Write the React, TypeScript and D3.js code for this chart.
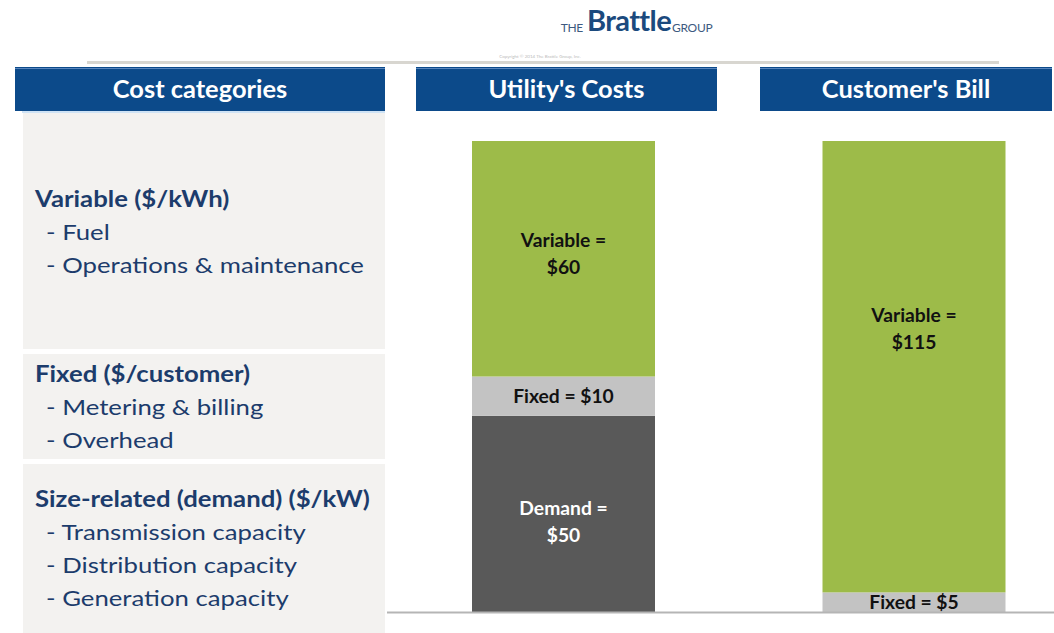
import React from "react";
import * as d3 from "d3";

const columns = ["Utility's Costs", "Customer's Bill"];
const segmentNames = ["Demand", "Fixed", "Variable"];
const utilityValues = [50, 10, 60];
const billValues = [0, 5, 115];
const categoryHeads = ["Variable ($/kWh)", "Fixed ($/customer)", "Size-related (demand) ($/kW)"];
const categoryItems = [
  ["Fuel", "Operations & maintenance"],
  ["Metering & billing", "Overhead"],
  ["Transmission capacity", "Distribution capacity", "Generation capacity"],
];
const headerTitles = ["Cost categories", "Utility's Costs", "Customer's Bill"];

const W = 1054;
const H = 633;
const FONT = "Lato, 'Open Sans', sans-serif";
const BLUE = "#0c4a8a";
const TEXTBLUE = "#1c3c6c";
const segColors: Record<string, string> = { Demand: "#595959", Fixed: "#c3c3c3", Variable: "#9dbb49" };
const segText: Record<string, string> = { Demand: "#ffffff", Fixed: "#111", Variable: "#111" };

function SText(props: { x: number; y: number; sx: number; anchor?: string; size: number; weight?: number; fill: string; children: React.ReactNode }) {
  const { x, y, sx, anchor, size, weight, fill, children } = props;
  return (
    <text
      transform={`translate(${x},${y}) scale(${sx},1)`}
      x={0}
      y={0}
      textAnchor={anchor || "start"}
      fontSize={size}
      fontWeight={weight || 400}
      fill={fill}
    >
      {children}
    </text>
  );
}

export default function App() {
  const y = d3.scaleLinear().domain([0, 120]).range([612, 141]);
  const x = d3.scalePoint<string>().domain(columns).range([563.5, 914]);
  const barW = 183;
  const series = [utilityValues, billValues];
  const labelShift = [[8, 0, -5], [0, 0, -38]];

  const headerBoxes = [
    { x0: 15, x1: 385 },
    { x0: 416, x1: 717 },
    { x0: 760, x1: 1052 },
  ];
  const panels = [
    { y0: 113, y1: 349 },
    { y0: 354, y1: 459 },
    { y0: 464, y1: 633 },
  ];
  const headBaselines = [207, 382, 507];
  const lineGap = 33;
  const leftSx = 1.17;
  const labelSx = 1.07;

  return (
    <svg width={W} height={H} style={{ position: "absolute", left: 0, top: 0, background: "#fff" }} fontFamily={FONT}>
      <rect x={0} y={0} width={W} height={H} fill="#fff" />
      {/* logo */}
      <text x={583} y={32} fontSize={12} fill="#3d5a80" textAnchor="end" letterSpacing={-0.3}>THE</text>
      <text x={587} y={31} fontSize={29} fill="#1b4a7e" fontWeight={700} letterSpacing={-0.6}>Brattle</text>
      <text x={672} y={32} fontSize={12} fill="#3d5a80" letterSpacing={-0.3}>GROUP</text>
      <text x={540} y={58} fontSize={4.5} fill="#bbb" textAnchor="middle">Copyright © 2014 The Brattle Group, Inc.</text>
      <rect x={87} y={61} width={912} height={3} fill="#d8d6d0" />

      {/* header bars */}
      {headerBoxes.map((b, i) => (
        <g key={i}>
          <rect x={b.x0} y={67} width={b.x1 - b.x0} height={44} fill={BLUE} />
          <line x1={b.x0} x2={b.x1} y1={68.5} y2={68.5} stroke="#5a86bd" strokeWidth={1} />
          <SText x={(b.x0 + b.x1) / 2} y={98} sx={1.06} anchor="middle" size={24} weight={700} fill="#fff">
            {headerTitles[i]}
          </SText>
        </g>
      ))}
      <line x1={22} x2={385} y1={112} y2={112} stroke="#cfe3f5" strokeWidth={2} />

      {/* left panels */}
      {panels.map((p, i) => (
        <rect key={i} x={23} y={p.y0} width={362} height={p.y1 - p.y0} fill="#f3f2f0" />
      ))}
      {categoryHeads.map((h, i) => (
        <g key={h}>
          <SText x={35} y={headBaselines[i]} sx={leftSx} size={22} weight={700} fill={TEXTBLUE}>{h}</SText>
          {categoryItems[i].map((it, j) => (
            <SText key={it} x={46} y={headBaselines[i] + lineGap * (j + 1)} sx={leftSx} size={22} fill={TEXTBLUE}>
              {"- " + it}
            </SText>
          ))}
        </g>
      ))}

      {/* bars */}
      {columns.map((c, ci) => {
        const vals = series[ci];
        let cum = 0;
        const cx = x(c) as number;
        return (
          <g key={c}>
            {vals.map((v, si) => {
              const y0 = cum;
              cum += v;
              if (v === 0) return null;
              const top = y(cum);
              const bot = y(y0);
              const name = segmentNames[si];
              const h = bot - top;
              const mid = (top + bot) / 2 + labelShift[ci][si];
              const oneLine = h < 50;
              return (
                <g key={name}>
                  <rect x={cx - barW / 2} y={top} width={barW} height={h} fill={segColors[name]} />
                  {oneLine ? (
                    <SText x={cx} y={mid + 6.5} sx={labelSx} anchor="middle" size={18} weight={700} fill={segText[name]}>
                      {`${name} = $${v}`}
                    </SText>
                  ) : (
                    <g>
                      <SText x={cx} y={mid - 7} sx={labelSx} anchor="middle" size={18} weight={700} fill={segText[name]}>
                        {`${name} =`}
                      </SText>
                      <SText x={cx} y={mid + 20} sx={labelSx} anchor="middle" size={18} weight={700} fill={segText[name]}>
                        {`$${v}`}
                      </SText>
                    </g>
                  )}
                </g>
              );
            })}
          </g>
        );
      })}
      <line x1={387} x2={W} y1={y(0) + 0.5} y2={y(0) + 0.5} stroke="#b5b5b5" strokeWidth={2} />
    </svg>
  );
}
